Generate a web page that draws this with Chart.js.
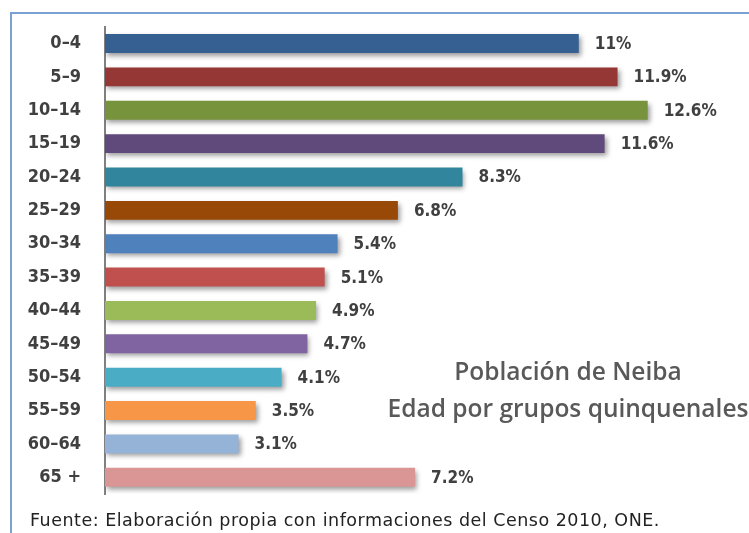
<!DOCTYPE html>
<html>
<head>
<meta charset="utf-8">
<script src="https://cdn.jsdelivr.net/npm/chart.js@4.4.1/dist/chart.umd.min.js"></script>
<style>
  html, body { margin: 0; padding: 0; background: #fff; }
  #wrap { position: relative; width: 749px; height: 533px; overflow: hidden; }
  #frame { position: absolute; left: 10px; top: 12px; width: 760px; height: 540px;
           border-left: 2px solid #7aa0d4; border-top: 2px solid #7aa0d4; }
  #chart { position: absolute; left: 0; top: 0; }
  #title { position: absolute; left: 384px; top: 352px; width: 368px; text-align: center;
           font-family: "Open Sans", sans-serif; font-weight: 600; font-size: 24.5px; line-height: 37px; color: #595959; }
  #source { position: absolute; left: 30px; top: 510px; font-family: "DejaVu Sans", sans-serif;
            font-size: 17.5px; letter-spacing: 0.5px; color: #222; white-space: nowrap; }
</style>
</head>
<body>
<div id="wrap">
  <div id="frame"></div>
  <canvas id="chart" width="749" height="533"></canvas>
  <div id="title">Población de Neiba<br>Edad por grupos quinquenales</div>
  <div id="source">Fuente: Elaboración propia con informaciones del Censo 2010, ONE.</div>
</div>
<script>
// --- Data ---
const ageGroups = ['0–4', '5–9', '10–14', '15–19', '20–24', '25–29', '30–34',
                   '35–39', '40–44', '45–49', '50–54', '55–59', '60–64', '65 +'];
const shares = [11, 11.9, 12.6, 11.6, 8.3, 6.8, 5.4, 5.1, 4.9, 4.7, 4.1, 3.5, 3.1, 7.2];
const shareLabels = ['11%', '11.9%', '12.6%', '11.6%', '8.3%', '6.8%', '5.4%',
                     '5.1%', '4.9%', '4.7%', '4.1%', '3.5%', '3.1%', '7.2%'];
const barColors = ['#366092', '#953735', '#77933c', '#604a7b', '#31859c', '#984807', '#4f81bd',
                   '#c0504d', '#9bbb59', '#8064a2', '#4bacc6', '#f79646', '#95b3d7', '#d99694'];

// soft drop shadow under the bars
const barShadow = {
    id: 'barShadow',
    beforeDatasetsDraw(chart) {
        const ctx = chart.ctx;
        ctx.save();
        ctx.shadowColor = 'rgba(0,0,0,0.4)';
        ctx.shadowBlur = 5;
        ctx.shadowOffsetX = 2;
        ctx.shadowOffsetY = 3;
    },
    afterDatasetsDraw(chart) {
        chart.ctx.restore();
    }
};

// value labels at the end of each bar
const valueLabels = {
    id: 'valueLabels',
    afterDraw(chart) {
        const ctx = chart.ctx;
        const meta = chart.getDatasetMeta(0);
        ctx.save();
        ctx.font = 'bold 17px "DejaVu Sans Condensed", "DejaVu Sans", sans-serif';
        ctx.fillStyle = '#404040';
        ctx.textBaseline = 'middle';
        meta.data.forEach((bar, i) => {
            ctx.fillText(shareLabels[i], bar.x + 16, bar.y + 1);
        });
        ctx.restore();
    }
};

new Chart(document.getElementById('chart'), {
    type: 'bar',
    data: {
        labels: ageGroups,
        datasets: [{
            data: shares,
            backgroundColor: barColors,
            borderWidth: 0,
            barPercentage: 0.9,
            categoryPercentage: 0.63
        }]
    },
    options: {
        indexAxis: 'y',
        responsive: false,
        animation: false,
        layout: { padding: { top: 20, bottom: 39, right: 41, left: 0 } },
        scales: {
            x: { display: false, min: 0, max: 14 },
            y: {
                afterFit: (scale) => { scale.width = 105; },
                grid: { display: false },
                border: { display: true, color: '#808080', width: 2 },
                ticks: {
                    padding: 16,
                    color: '#404040',
                    font: { family: 'DejaVu Sans Condensed', size: 18, weight: 'bold' }
                }
            }
        },
        plugins: {
            legend: { display: false },
            tooltip: { enabled: false }
        }
    },
    plugins: [barShadow, valueLabels]
});
</script>
</body>
</html>
